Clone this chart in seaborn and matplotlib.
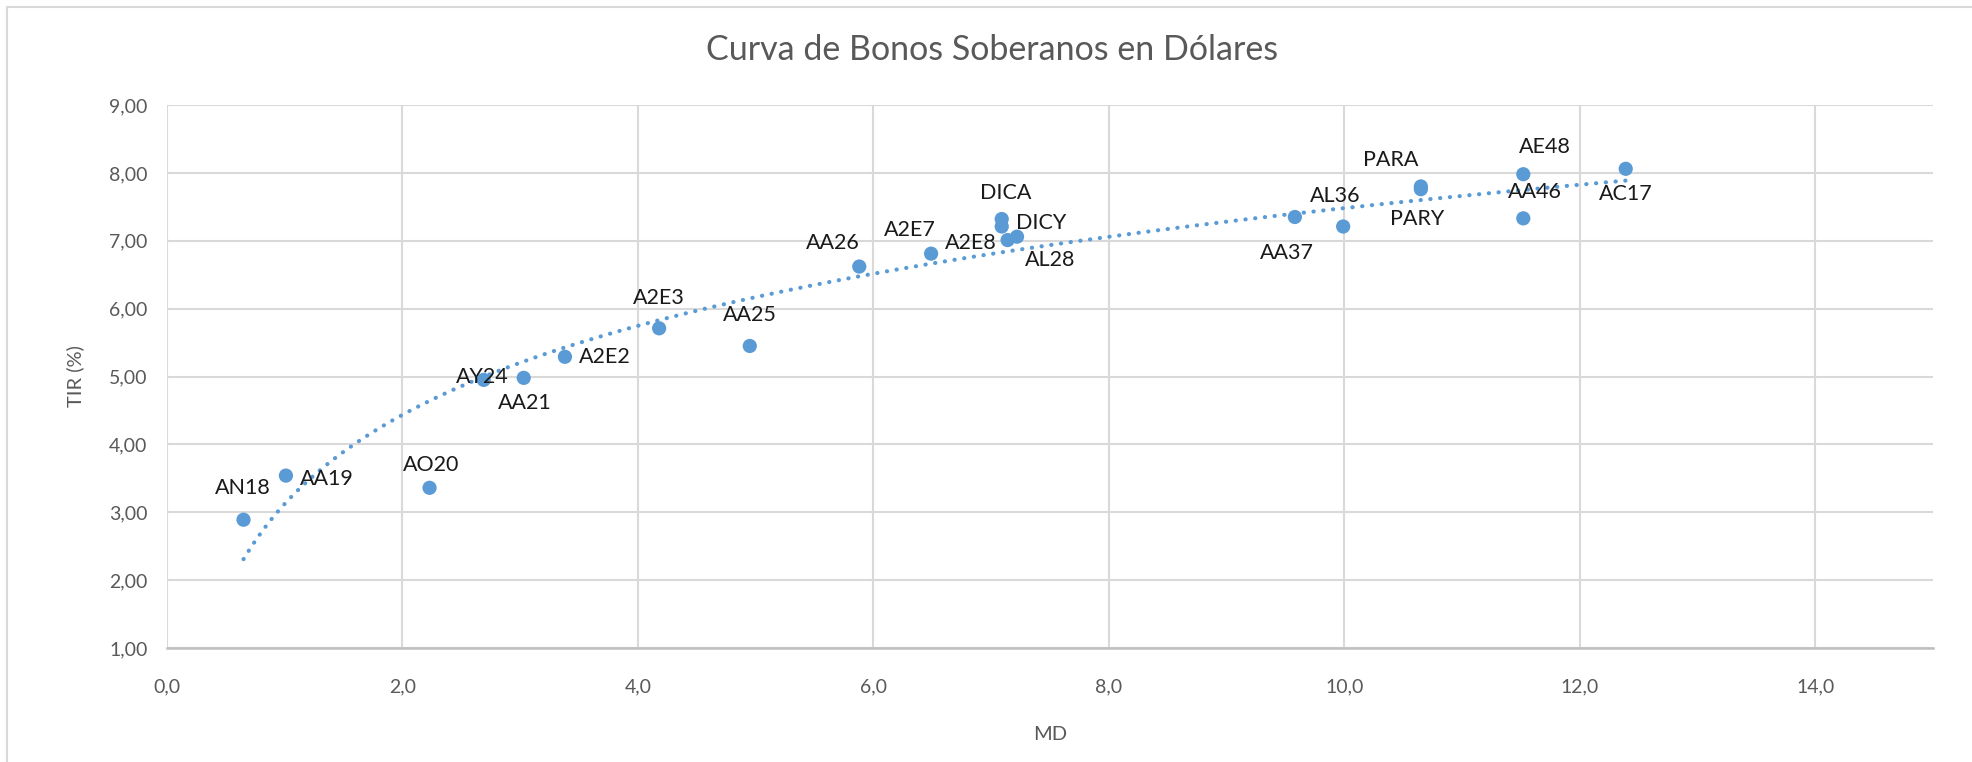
import matplotlib
matplotlib.use('Agg')
import matplotlib.pyplot as plt
from matplotlib.ticker import FuncFormatter, MultipleLocator
from matplotlib.lines import Line2D
import numpy as np
import pandas as pd
import seaborn as sns

# datos
bonos = ['AN18', 'AA19', 'AO20', 'AY24', 'AA21', 'A2E2', 'A2E3', 'AA25', 'AA26',
         'A2E7', 'DICA', 'DICY', 'A2E8', 'AL28', 'AA37', 'AL36', 'PARA', 'PARY',
         'AE48', 'AA46', 'AC17']
md = [0.65, 1.01, 2.23, 2.69, 3.03, 3.38, 4.18, 4.95, 5.88,
      6.49, 7.09, 7.09, 7.14, 7.22, 9.58, 9.99, 10.65, 10.65,
      11.52, 11.52, 12.39]
tir = [2.89, 3.54, 3.36, 4.95, 4.98, 5.29, 5.71, 5.45, 6.62,
       6.81, 7.32, 7.21, 7.01, 7.06, 7.35, 7.21, 7.80, 7.76,
       7.98, 7.33, 8.06]

# posicion de cada etiqueta (pixeles respecto del punto)
label_offsets = {
    'AN18': (-1, 32), 'AA19': (41, -3), 'AO20': (2, 23), 'AY24': (-1, 3),
    'AA21': (1, -25), 'A2E2': (40, 0), 'A2E3': (0, 30), 'AA25': (0, 31),
    'AA26': (-26, 24), 'A2E7': (-21, 24), 'DICA': (4, 26), 'DICY': (39, 3),
    'A2E8': (-37, -3), 'AL28': (33, -23), 'AA37': (-8, -36), 'AL36': (-8, 30),
    'PARA': (-30, 26), 'PARY': (-4, -30), 'AE48': (22, 27), 'AA46': (12, 26),
    'AC17': (0, -25),
}

blue = '#5B9BD5'
grid = '#D9D9D9'
txt = '#595959'

df = pd.DataFrame({'bono': bonos, 'MD': md, 'TIR': tir})

# tendencia logaritmica (como Excel)
b, a = np.polyfit(np.log(df['MD']), df['TIR'], 1)
xs = np.linspace(df['MD'].min(), df['MD'].max(), 200)
trend = pd.DataFrame({'MD': xs, 'TIR': a + b * np.log(xs)})

sns.set_style('white')
plt.rcParams['font.family'] = ['Lato', 'DejaVu Sans']

fig = plt.figure(figsize=(19.72, 7.62), dpi=100)
ax = fig.add_axes([167 / 1972, 1 - 648 / 762, (1933 - 167) / 1972, (648 - 105) / 762])

sns.lineplot(data=trend, x='MD', y='TIR', ax=ax, color=blue, linewidth=3,
             linestyle=(0, (0.05, 2.3)), dash_capstyle='round', zorder=2)
sns.scatterplot(data=df, x='MD', y='TIR', ax=ax, color=blue, s=105,
                edgecolor='none', zorder=3)

for _, r in df.iterrows():
    dx, dy = label_offsets[r['bono']]
    ax.annotate(r['bono'], (r['MD'], r['TIR']), xytext=(dx, dy),
                textcoords='offset pixels', ha='center', va='center',
                fontsize=15.5, color='#1a1a1a', zorder=4)

ax.set_xlim(0, 15)
ax.set_ylim(1, 9)
ax.xaxis.set_major_locator(MultipleLocator(2))
ax.yaxis.set_major_locator(MultipleLocator(1))
ax.xaxis.set_major_formatter(FuncFormatter(lambda v, p: f'{v:.1f}'.replace('.', ',')))
ax.yaxis.set_major_formatter(FuncFormatter(lambda v, p: f'{v:.2f}'.replace('.', ',')))
ax.grid(True, color=grid, linewidth=1.5)
ax.set_axisbelow(True)
for s in ['top', 'right', 'left']:
    ax.spines[s].set_visible(False)
ax.spines['bottom'].set_color('#BFBFBF')
ax.spines['bottom'].set_linewidth(1.8)
ax.tick_params(axis='both', length=0, labelsize=14, labelcolor=txt)
ax.tick_params(axis='x', pad=22)
ax.tick_params(axis='y', pad=14)

ax.set_xlabel('MD', fontsize=14.5, color=txt, labelpad=22)
ax.set_ylabel('TIR (%)', fontsize=14.5, color=txt, labelpad=18)
fig.text(992 / 1972, 1 - 50 / 762, 'Curva de Bonos Soberanos en Dólares',
         ha='center', va='center', fontsize=24.5, color=txt)

# borde del area del grafico
fig.add_artist(Line2D([7 / 1972, 1], [1 - 7 / 762, 1 - 7 / 762], transform=fig.transFigure,
                      color='#D9D9D9', linewidth=1.5))
fig.add_artist(Line2D([7 / 1972, 7 / 1972], [0, 1 - 7 / 762], transform=fig.transFigure,
                      color='#D9D9D9', linewidth=1.5))

fig.savefig('out.png', dpi=100)
